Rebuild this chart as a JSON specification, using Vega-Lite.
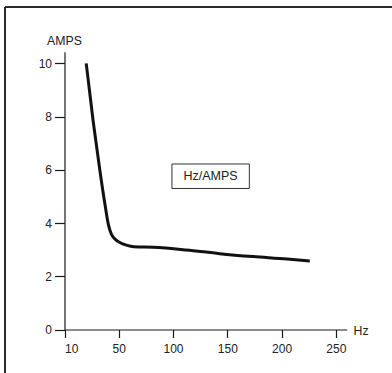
{
  "$schema": "https://vega.github.io/schema/vega-lite/v6.json",
  "width": 387,
  "height": 366,
  "autosize": {"type": "none"},
  "padding": {"left": 5, "top": 7, "right": 0, "bottom": 0},
  "background": "white",
  "view": {"stroke": null, "strokeWidth": 0},
  "config": {
    "font": "Liberation Sans",
    "view": {"stroke": null, "strokeWidth": 0},
    "axis": {
      "grid": false,
      "domainColor": "#1a1a1a",
      "tickColor": "#1a1a1a",
      "labelColor": "#222",
      "titleColor": "#222",
      "labelFont": "Liberation Sans",
      "titleFont": "Liberation Sans",
      "labelFontSize": 12,
      "titleFontSize": 12.3,
      "titleFontWeight": "normal",
      "domainWidth": 1.2,
      "tickWidth": 1.2
    }
  },
  "datasets": {
    "frame_left": [{"hz": -54.82}],
    "frame_top": [{"amps": 12.12}]
  },
  "layer": [
    {
      "data": {"name": "frame_left"},
      "mark": {"type": "rule", "color": "#2a2a2a", "strokeWidth": 2, "clip": false},
      "encoding": {"x": {"field": "hz", "type": "quantitative"}}
    },
    {
      "data": {"name": "frame_top"},
      "mark": {"type": "rule", "color": "#2a2a2a", "strokeWidth": 2, "clip": false},
      "encoding": {"y": {"field": "amps", "type": "quantitative"}}
    },
    {
      "data": {
        "values": [
          {"hz": 20, "amps": 10.0},
          {"hz": 26.5, "amps": 7.8},
          {"hz": 32.7, "amps": 5.95},
          {"hz": 37.3, "amps": 4.7},
          {"hz": 40.4, "amps": 3.95},
          {"hz": 43, "amps": 3.6},
          {"hz": 46, "amps": 3.42},
          {"hz": 51, "amps": 3.27},
          {"hz": 57, "amps": 3.17},
          {"hz": 64, "amps": 3.11},
          {"hz": 82, "amps": 3.09},
          {"hz": 112, "amps": 2.99},
          {"hz": 143, "amps": 2.85},
          {"hz": 174, "amps": 2.74},
          {"hz": 205, "amps": 2.65},
          {"hz": 226, "amps": 2.57}
        ]
      },
      "mark": {"type": "line", "color": "#111", "strokeWidth": 3, "interpolate": "monotone", "clip": false},
      "encoding": {
        "x": {
          "field": "hz",
          "type": "quantitative",
          "scale": {"domain": [0, 260], "range": [59.5, 341.7], "nice": false, "zero": false},
          "axis": {
            "values": [0, 50, 100, 150, 200, 250],
            "labelExpr": "datum.value == 0 ? '10' : datum.label",
            "offset": -43.5,
            "tickSize": 8,
            "labelPadding": 6,
            "title": "Hz",
            "titleAlign": "left",
            "titleBaseline": "alphabetic",
            "titleAngle": 0,
            "titleX": 348,
            "titleY": 5
          }
        },
        "y": {
          "field": "amps",
          "type": "quantitative",
          "scale": {"domain": [0, 10.44], "range": [322.5, 44.7], "nice": false, "zero": false},
          "axis": {
            "values": [0, 2, 4, 6, 8, 10],
            "offset": -59.5,
            "tickSize": 10,
            "labelPadding": 3,
            "title": "AMPS",
            "titleAngle": 0,
            "titleAlign": "center",
            "titleBaseline": "alphabetic",
            "titleX": -0.5,
            "titleY": 37
          }
        }
      }
    },
    {
      "data": {"values": [{"x1": 99, "x2": 170.3, "y1": 5.3, "y2": 6.22, "xc": 134.6, "yc": 5.76, "label": "Hz/AMPS"}]},
      "mark": {"type": "rect", "fill": "white", "stroke": "#333", "strokeWidth": 1},
      "encoding": {
        "x": {"field": "x1", "type": "quantitative"},
        "x2": {"field": "x2"},
        "y": {"field": "y1", "type": "quantitative"},
        "y2": {"field": "y2"}
      }
    },
    {
      "data": {"values": [{"x1": 99, "x2": 170.3, "y1": 5.3, "y2": 6.22, "xc": 134.6, "yc": 5.76, "label": "Hz/AMPS"}]},
      "mark": {"type": "text", "fontSize": 12.5, "color": "#222", "align": "center", "baseline": "middle"},
      "encoding": {
        "x": {"field": "xc", "type": "quantitative"},
        "y": {"field": "yc", "type": "quantitative"},
        "text": {"field": "label"}
      }
    }
  ]
}
